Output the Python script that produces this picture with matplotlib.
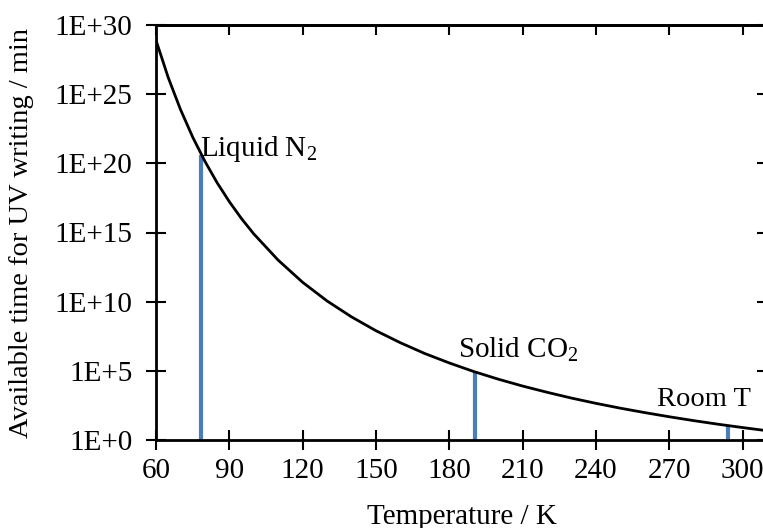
import numpy as np
import matplotlib
matplotlib.use("Agg")
import matplotlib.pyplot as plt
from matplotlib.ticker import FixedLocator, FuncFormatter

# curve: temperature (K) and log10 of time (min)
temperatura = [60, 65, 70, 75, 80, 85, 90, 95, 100, 110, 120, 130, 140, 150,
               160, 170, 180, 190, 200, 210, 220, 230, 240, 250, 260, 270,
               280, 290, 300, 310]
log_tempo = [28.9, 26.2, 23.9, 21.9, 20.15, 18.6, 17.23, 16.0, 14.9, 13.0,
             11.4, 10.05, 8.9, 7.9, 7.03, 6.25, 5.57, 4.95, 4.4, 3.9, 3.45,
             3.03, 2.65, 2.3, 1.98, 1.68, 1.4, 1.14, 0.9, 0.67]

# marked temperatures
marcas = ["Liquid N$_2$", "Solid CO$_2$", "Room T"]
marcas_t = [78.5, 190.6, 294.0]
marcas_log = [20.6, 4.92, 1.04]

x_ticks = [60, 90, 120, 150, 180, 210, 240, 270, 300]
y_exp = [0, 5, 10, 15, 20, 25, 30]

plt.rcParams["font.family"] = ["Liberation Serif", "DejaVu Serif"]
plt.rcParams["mathtext.fontset"] = "custom"
plt.rcParams["mathtext.rm"] = "Liberation Serif"
plt.rcParams["mathtext.it"] = "Liberation Serif:italic"

fs = 21

fig = plt.figure(figsize=(7.63, 5.28), dpi=100)
ax = fig.add_axes([156 / 763, 1 - 440 / 528, 611 / 763, 415 / 528])

tempo = 10.0 ** np.array(log_tempo)
ax.plot(temperatura, tempo, color="black", linewidth=2.0, zorder=3)

cor_barra = "#4a7ebb"
for nome, t, lg in zip(marcas, marcas_t, marcas_log):
    ax.vlines(t, 1, 10.0 ** lg, color=cor_barra, linewidth=3, zorder=2)

ax.text(77.8, 10 ** 21.0, marcas[0], fontsize=fs, ha="left", va="center")
ax.text(183.5, 10 ** 6.5, marcas[1], fontsize=fs, ha="left", va="center")
ax.text(264.8, 10 ** 2.9, marcas[2], fontsize=20.5, ha="left", va="center")

ax.set_yscale("log")
ax.set_xlim(60, 310)
ax.set_ylim(1, 1e30)
ax.xaxis.set_major_locator(FixedLocator(x_ticks))
ax.yaxis.set_major_locator(FixedLocator([10.0 ** e for e in y_exp]))
ax.yaxis.set_minor_locator(FixedLocator([]))
ax.yaxis.set_major_formatter(FuncFormatter(lambda v, p: "1E+%d" % round(np.log10(v))))

ax.tick_params(axis="both", which="major", direction="inout", length=14,
               width=1.5, labelsize=fs)
ax.tick_params(axis="x", pad=6)
ax.tick_params(axis="y", pad=10, right=True)
ax.tick_params(axis="both", which="minor", length=0)

for lado in ["left", "bottom", "top", "right"]:
    ax.spines[lado].set_linewidth(2)

topo = ax.secondary_xaxis("top")
topo.xaxis.set_major_locator(FixedLocator(x_ticks))
topo.tick_params(direction="in", length=7, width=1.5, labeltop=False)
topo.spines["top"].set_linewidth(2)

ax.set_xlabel("Temperature / K", fontsize=fs, labelpad=14)
ax.set_ylabel("Available time for UV writing / min", fontsize=20.5, labelpad=15)

fig.savefig("out.png", dpi=100)
